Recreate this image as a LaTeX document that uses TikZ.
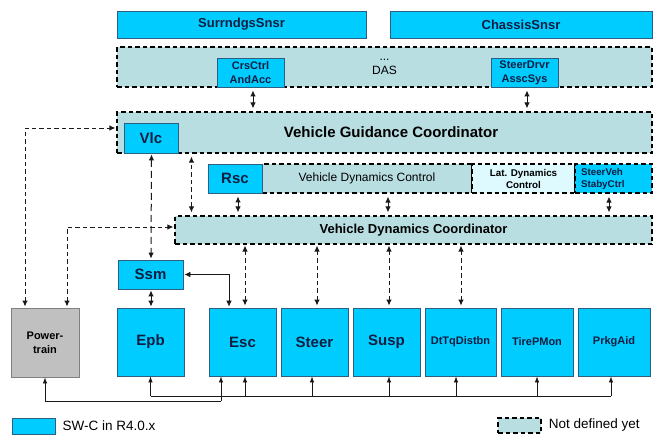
\documentclass[tikz,border=0pt]{standalone}
\usepackage{fontspec}
\setmainfont{Liberation Sans}
\usetikzlibrary{arrows.meta,positioning}
\definecolor{swcblue}{RGB}{0,204,255}
\definecolor{swcedge}{RGB}{45,95,130}
\definecolor{softteal}{RGB}{184,222,226}
\definecolor{paleteal}{RGB}{222,250,255}
\definecolor{ptgray}{RGB}{192,192,192}
\definecolor{navytext}{RGB}{15,30,65}
\tikzset{
  swc/.style={draw=swcedge, fill=swcblue, text=navytext, line width=0.8pt, inner sep=1pt, align=center},
  undef/.style={draw=black, fill=softteal, line width=1.1pt, dash pattern=on 4.5pt off 3pt, inner sep=1pt, align=center},
  ptbox/.style={draw=gray, fill=ptgray, line width=0.8pt, inner sep=1pt, align=center},
  fbig/.style={font=\fontsize{15}{17}\selectfont\bfseries},
  fsnsr/.style={font=\fontsize{13}{15}\selectfont\bfseries},
  fsmall/.style={font=\fontsize{11}{14}\selectfont\bfseries},
  ftiny/.style={font=\fontsize{9.8}{12}\selectfont\bfseries},
  freg/.style={font=\fontsize{12}{14}\selectfont},
  flegend/.style={font=\fontsize{13.5}{15}\selectfont},
  link/.style={{Latex[length=6pt,width=5.5pt]}-{Latex[length=6pt,width=5.5pt]}, line width=1pt, draw=black!90, shorten <=3pt, shorten >=3pt},
  dlink/.style={link, dash pattern=on 4.5pt off 3pt},
  bus/.style={-{Latex[length=6pt,width=4.5pt]}, line width=0.7pt, draw=black!90}
}
\begin{document}
\begin{tikzpicture}[x=1pt, y=-1pt]
  \useasboundingbox (0,0) rectangle (659,437);
  \node[swc, fsnsr, minimum width=249pt, minimum height=27pt] (surr) at (241.5,24.5) {SurrndgsSnsr};
  \node[swc, fsnsr, minimum width=262pt, minimum height=27pt] (chassis) at (521,24.5) {ChassisSnsr};
  \node[undef, freg, minimum width=535pt, minimum height=40pt] (das) at (384.5,67) {...\\DAS};
  \node[swc, fsmall, minimum width=67pt, minimum height=29pt] (crs) at (250.5,72.5) {CrsCtrl\\AndAcc};
  \node[swc, fsmall, minimum width=67pt, minimum height=29pt] (sdas) at (524.5,72.5) {SteerDrvr\\AsscSys};
  \node[undef, fbig, minimum width=535pt, minimum height=41pt] (vgc) at (384.5,132.5) {\hspace{13pt}Vehicle Guidance Coordinator};
  \node[swc, fbig, minimum width=54pt, minimum height=30pt] (vlc) at (151,138) {Vlc};
  \node[undef, freg, minimum width=210pt, minimum height=29pt] (vdc) at (367,178.5) {Vehicle Dynamics Control};
  \node[undef, ftiny, fill=paleteal, minimum width=103pt, minimum height=29pt] (lat) at (523.5,178.5) {Lat. Dynamics\\Control};
  \node[swc, fbig, minimum width=54pt, minimum height=29pt] (rsc) at (235,178.5) {Rsc};
  \node[undef, ftiny, fill=swcblue, text=navytext, inner xsep=6pt, text width=65pt, align=left, minimum height=29pt] (sveh) at (613.5,178.5) {SteerVeh\\StabyCtrl};
  \node[undef, fsnsr, minimum width=477pt, minimum height=28pt] (vdco) at (413.5,230) {Vehicle Dynamics Coordinator};
  \node[swc, fbig, minimum width=65pt, minimum height=29pt] (ssm) at (150.5,274.5) {Ssm};
  \node[ptbox, fsmall, minimum width=68pt, minimum height=69pt] (ptrain) at (45,342.5) {Power-\\train};
  \node[swc, fbig, minimum width=67pt, minimum height=68pt] (epb) at (150.5,342) {Epb};
  \node[swc, fbig, minimum width=67pt, minimum height=68pt] (esc) at (242.5,342) {Esc};
  \node[swc, fbig, minimum width=67pt, minimum height=68pt] (steer) at (314.5,342) {Steer};
  \node[swc, fbig, minimum width=67pt, minimum height=68pt] (susp) at (386.5,342) {Susp};
  \node[swc, fsmall, minimum width=71pt, minimum height=68pt] (dtq) at (460.5,342) {DtTqDistbn};
  \node[swc, fsmall, minimum width=72pt, minimum height=68pt] (tire) at (537,342) {TirePMon};
  \node[swc, fsmall, minimum width=72pt, minimum height=68pt] (prkg) at (614,342) {PrkgAid};
  \node[swc, minimum width=43pt, minimum height=16pt] (lgswc) at (33.5,426) {};
  \node[flegend, right=7pt of lgswc, inner sep=0pt] (lgswctxt) {SW-C in R4.0.x};
  \node[undef, minimum width=43pt, minimum height=15pt] (lgundef) at (519.5,425.5) {};
  \node[flegend, right=7pt of lgundef, inner sep=0pt] (lgundeftxt) {Not defined yet};
  \draw[link] ([xshift=2.5pt]crs.south) -- ([xshift=2.5pt]crs.south |- vgc.north);
  \draw[link] ([xshift=2.5pt]sdas.south) -- ([xshift=2.5pt]sdas.south |- vgc.north);
  \draw[dlink] ([xshift=17pt]vdco.north west) -- ([xshift=17pt]vdco.north west |- vgc.south);
  \draw[link] ([xshift=3pt]rsc.south) -- ([xshift=3pt]rsc.south |- vdco.north);
  \draw[link] ([xshift=21pt]vdc.south) -- ([xshift=21pt]vdc.south |- vdco.north);
  \draw[link] ([xshift=-4.5pt]sveh.south) -- ([xshift=-4.5pt]sveh.south |- vdco.north);
  \draw[link, dash pattern=on 7pt off 4pt, shorten <=1pt, shorten >=1pt] ([xshift=0.5pt]vlc.south) -- ([xshift=0.5pt]ssm.north);
  \draw[link, shorten <=1pt, shorten >=1pt] ([xshift=0.5pt]ssm.south) -- ([xshift=0.5pt]epb.north);
  \draw[link, line width=0.7pt, shorten <=1pt, shorten >=1pt] (ssm.east) -| ([xshift=-13.5pt]esc.north);
  \foreach \b/\dx in {esc/2.5, steer/2.5, susp/2.5, dtq/0.5} {
    \draw[dlink, shorten <=2pt, shorten >=1pt] ([xshift=\dx pt]\b.north) -- ([xshift=\dx pt]\b.north |- vdco.south);
  }
  \draw[dlink, shorten <=1pt, shorten >=1pt] ([xshift=-20pt]ptrain.north) |- ([yshift=4.5pt]vgc.west);
  \draw[dlink, shorten <=1pt, shorten >=1pt] ([xshift=22pt]ptrain.north) |- ([yshift=3pt]vdco.west);
  \coordinate (bja) at (221,401);
  \coordinate (bjb) at (611,396);
  \draw[bus] (bja) -| (ptrain.south);
  \draw[bus] (bja) -- (bja |- esc.south);
  \draw[line width=0.7pt, draw=black!90] (epb.south |- bjb) -- (bjb);
  \draw[bus] (epb.south |- bjb) -- (epb.south);
  \foreach \b/\dx in {esc/2.5, steer/-2.5, susp/2.5, dtq/-4.5, tire/0, prkg/-3} {
    \draw[bus] ([xshift=\dx pt]\b.south |- bjb) -- ([xshift=\dx pt]\b.south);
  }
\end{tikzpicture}
\end{document}
